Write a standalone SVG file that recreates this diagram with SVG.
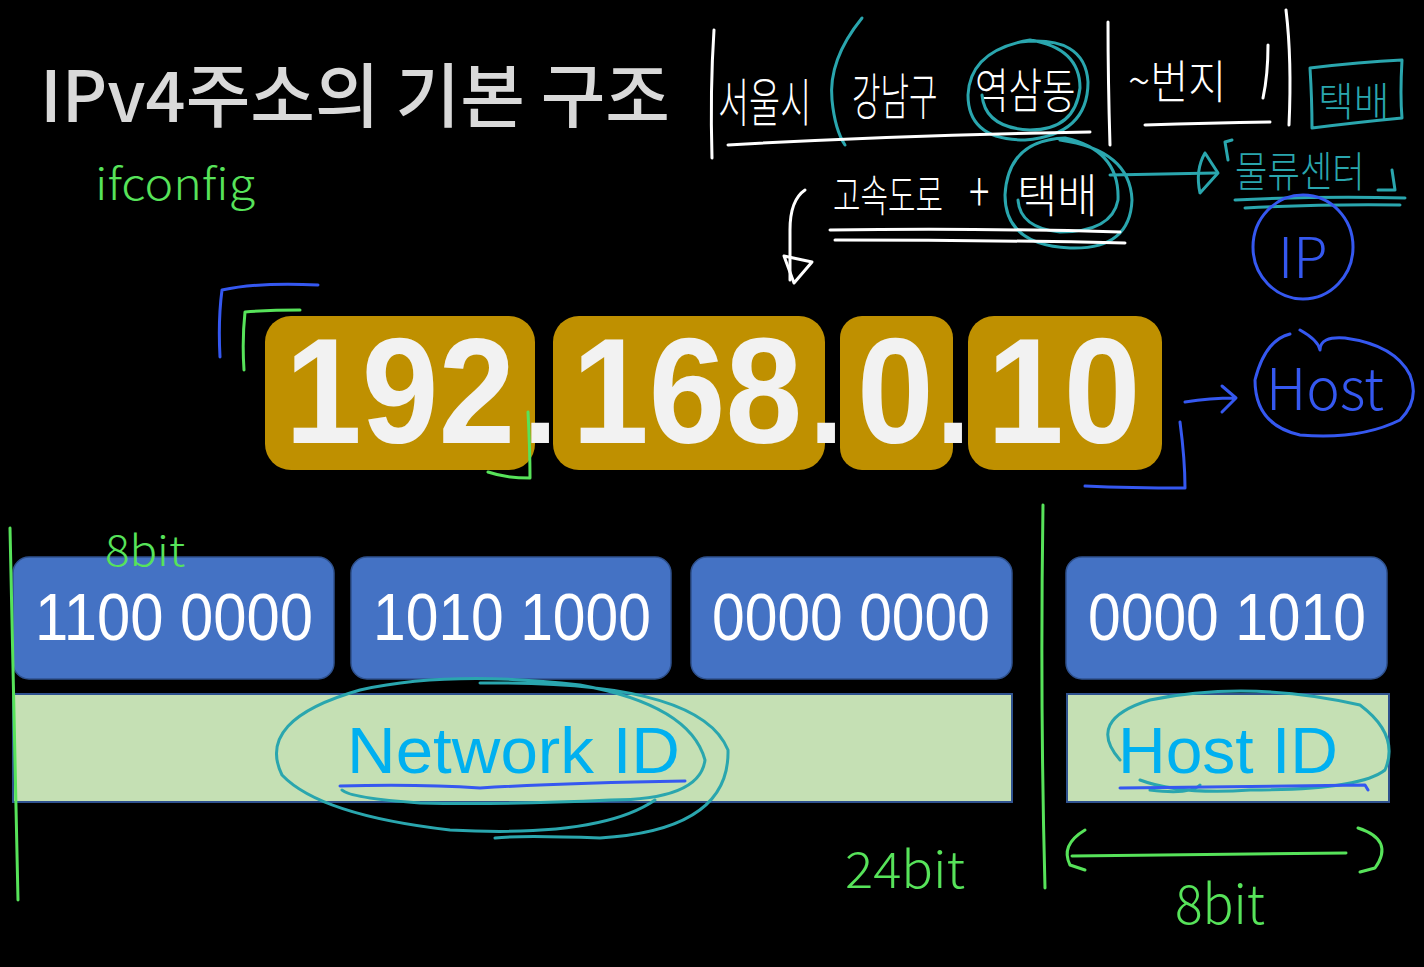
<svg xmlns="http://www.w3.org/2000/svg" width="1424" height="967" viewBox="0 0 1424 967">
<style>
.hand{font-family:"Noto Sans CJK KR","Noto Sans",sans-serif;font-weight:300}
.white{fill:#ffffff}
.teal{fill:none;stroke:#2aa6ae;stroke-width:3;stroke-linecap:round;stroke-linejoin:round}
.wst{fill:none;stroke:#ffffff;stroke-width:3;stroke-linecap:round;stroke-linejoin:round}
.bst{fill:none;stroke:#3558f0;stroke-width:3;stroke-linecap:round;stroke-linejoin:round}
.gst{fill:none;stroke:#57e35a;stroke-width:3;stroke-linecap:round;stroke-linejoin:round}
.gold{fill:#bf9000}
.num{font-family:"Liberation Sans",Arial,sans-serif;font-weight:bold;font-size:150px;fill:#f2f2f2}
.byte{fill:#4472c4;stroke:#2f528f;stroke-width:1.5}
.bin{font-family:"Liberation Sans",Arial,sans-serif;font-size:66px;fill:#ffffff}
.bar{fill:#c5e0b4;stroke:#2f528f;stroke-width:2}
.lbl{font-family:"Liberation Sans",Arial,sans-serif;font-size:64px;fill:#00b0f0}
</style>
<rect width="1424" height="967" fill="#000000"/>

<g id="title">
<text x="40" y="122" font-family="'Noto Sans CJK KR','Noto Sans',sans-serif" font-weight="500" font-size="70" fill="#d9d9d9" textLength="630" lengthAdjust="spacingAndGlyphs">IPv4주소의 기본 구조</text>
</g>

<g id="ifconfig">
<text x="95" y="200" class="hand" font-size="44" fill="#57e35a" textLength="160" lengthAdjust="spacingAndGlyphs">ifconfig</text>
</g>

<g id="ip-octets">
<rect class="gold" x="265" y="316" width="270" height="154" rx="26"/>
<rect class="gold" x="553" y="316" width="272" height="154" rx="26"/>
<rect class="gold" x="840" y="316" width="113" height="154" rx="22"/>
<rect class="gold" x="968" y="316" width="194" height="154" rx="26"/>
<text class="num" y="443" transform="scale(0.92 1)"><tspan x="309.8">192</tspan><tspan x="568.5" font-size="135">.</tspan><tspan x="621.7">168</tspan><tspan x="879.3" font-size="135">.</tspan><tspan x="931.5">0</tspan><tspan x="1017.4" font-size="135">.</tspan><tspan x="1072.8">10</tspan></text>
</g>

<g id="binary-bytes">
<rect class="byte" x="13" y="557" width="321" height="122" rx="16"/>
<rect class="byte" x="351" y="557" width="320" height="122" rx="16"/>
<rect class="byte" x="691" y="557" width="321" height="122" rx="16"/>
<rect class="byte" x="1066" y="557" width="321" height="122" rx="16"/>
<text class="bin" x="35" y="640" textLength="278" lengthAdjust="spacingAndGlyphs">1100 0000</text>
<text class="bin" x="373" y="640" textLength="278" lengthAdjust="spacingAndGlyphs">1010 1000</text>
<text class="bin" x="712" y="640" textLength="278" lengthAdjust="spacingAndGlyphs">0000 0000</text>
<text class="bin" x="1088" y="640" textLength="278" lengthAdjust="spacingAndGlyphs">0000 1010</text>
</g>

<g id="network-id">
<rect class="bar" x="13" y="694" width="999" height="108"/>
<text class="lbl" x="347" y="773" textLength="333" lengthAdjust="spacingAndGlyphs">Network ID</text>
</g>
<g id="host-id">
<rect class="bar" x="1067" y="694" width="322" height="108"/>
<text class="lbl" x="1118" y="773" textLength="220" lengthAdjust="spacingAndGlyphs">Host ID</text>
</g>

<g id="annotations-top">
<path class="wst" d="M714,30 Q710,90 712,158"/>
<text class="hand white" font-size="52" transform="translate(718 122) scale(0.65 1)">서울시</text>
<path class="teal" d="M862,18 Q828,60 832,100 Q835,130 845,145"/>
<text class="hand white" font-size="50" transform="translate(852 115) scale(0.62 1)">강남구</text>
<text class="hand white" font-size="48" transform="translate(975 108) scale(0.76 1)">역삼동</text>
<path class="teal" d="M1020,42 Q1085,35 1088,82 Q1088,135 1025,140 Q968,140 968,95 Q970,50 1030,40 Q1080,48 1080,88 Q1075,130 1030,130 Q985,128 982,95"/>
<path class="wst" d="M728,145 Q900,135 1090,132"/>
<path class="wst" d="M1108,22 Q1108,80 1110,145"/>
<text class="hand white" font-size="46" transform="translate(1128 98) scale(0.9 1)">~번지</text>
<path class="wst" d="M1268,45 Q1268,75 1263,98"/>
<path class="wst" d="M1145,125 Q1210,123 1270,122"/>
<path class="wst" d="M1286,10 Q1292,60 1289,125"/>
<path class="teal" d="M1310,68 Q1360,62 1402,60 Q1400,95 1402,118 Q1360,122 1312,128 Q1312,100 1310,68"/>
<text class="hand" font-size="40" fill="#2aa6ae" transform="translate(1318 116) scale(0.97 1)">택배</text>

<text class="hand white" font-size="44" transform="translate(833 212) scale(0.68 1)"><tspan x="0">고속도로</tspan><tspan x="200" font-size="56">+</tspan></text>
<text class="hand white" font-size="46" transform="translate(1017 212) scale(0.95 1)">택배</text>
<path class="teal" d="M1060,140 Q1130,150 1132,200 Q1130,250 1070,248 Q1005,245 1005,195 Q1008,140 1065,138 Q1120,150 1118,200 Q1112,232 1060,232 Q1020,228 1018,200"/>
<path class="wst" d="M830,230 Q980,228 1120,232"/>
<path class="wst" d="M835,240 Q990,240 1125,243"/>
<path class="wst" d="M805,190 Q790,200 790,230 L790,280"/>
<path class="wst" d="M784,256 L812,262 L794,283 Z"/>
<path class="teal" d="M1110,175 L1215,173"/>
<path class="teal" d="M1205,153 L1218,173 L1200,193 Q1195,170 1205,153"/>
<path class="teal" d="M1232,140 L1225,142 L1228,160"/>
<text class="hand" font-size="42" fill="#2aa6ae" transform="translate(1235 187) scale(0.84 1)">물류센터</text>
<path class="teal" d="M1392,170 L1395,190 L1378,190"/>
<path class="teal" d="M1235,200 Q1320,196 1405,198"/>
<path class="teal" d="M1245,208 Q1320,204 1400,205"/>
<ellipse class="bst" cx="1303" cy="247" rx="50" ry="52"/>
<text x="1278" y="278" class="hand" font-size="56" fill="#3558f0">IP</text>
</g>

<g id="annotations-ip">
<path class="bst" d="M220,357 Q218,320 222,290 Q260,282 318,285"/>
<path class="gst" d="M244,370 Q242,340 245,312 Q270,310 300,310"/>
<path class="gst" d="M528,412 Q530,450 530,478 Q505,478 488,472"/>
<path class="bst" d="M1180,422 Q1185,460 1185,488 Q1130,488 1085,486"/>
<path class="bst" d="M1185,402 Q1210,398 1235,398 M1222,386 L1236,398 L1222,412"/>
<path class="bst" d="M1290,334 Q1265,340 1255,380 Q1255,425 1300,435 Q1360,440 1400,420 Q1420,400 1410,375 Q1395,345 1345,338 Q1320,336 1320,350 Q1318,340 1300,330"/>
<text x="1266" y="410" class="hand" font-size="58" fill="#3558f0" textLength="118" lengthAdjust="spacingAndGlyphs">Host</text>
</g>

<g id="annotations-bottom">
<path class="gst" d="M10,528 Q14,700 18,900"/>
<path class="gst" d="M1043,505 Q1040,700 1045,888"/>
<text x="105" y="566" class="hand" font-size="42" fill="#57e35a" textLength="80" lengthAdjust="spacingAndGlyphs">8bit</text>
<text x="845" y="888" class="hand" font-size="50" fill="#57e35a" textLength="120" lengthAdjust="spacingAndGlyphs">24bit</text>
<text x="1175" y="924" class="hand" font-size="54" fill="#57e35a" textLength="90" lengthAdjust="spacingAndGlyphs">8bit</text>
<path class="gst" d="M1085,830 Q1060,845 1070,865 L1085,870"/>
<path class="gst" d="M1072,856 Q1200,855 1346,853"/>
<path class="gst" d="M1358,828 Q1395,840 1375,868 L1360,872"/>
<path class="teal" d="M480,683 Q700,680 728,750 Q730,830 600,838 Q520,835 495,838 M655,800 Q600,838 450,830 Q320,815 282,775 Q255,720 360,690 Q450,670 580,685 Q690,705 705,760 Q700,800 610,800 Q500,805 420,803 Q350,798 342,790"/>
<path class="teal" d="M1120,760 Q1085,720 1150,700 Q1250,680 1360,705 Q1400,735 1385,770 Q1360,790 1250,790 Q1180,795 1140,780 M1150,790 Q1190,795 1200,785"/>
<path class="bst" d="M340,786 Q420,784 480,788 Q560,783 685,781"/>
<path class="bst" d="M1120,788 Q1240,786 1365,785 L1368,790"/>
</g>
</svg>
